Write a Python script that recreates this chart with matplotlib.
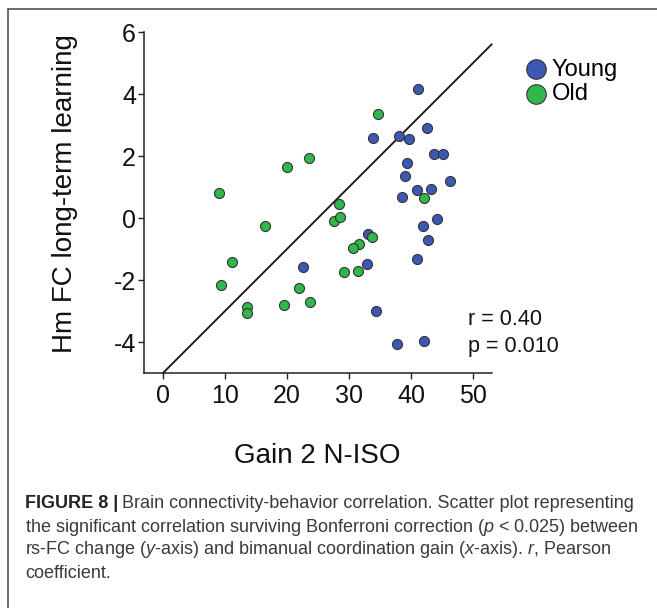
import matplotlib
matplotlib.use("Agg")
import matplotlib.pyplot as plt
from matplotlib.patches import Rectangle
import numpy as np

plt.rcParams['font.family'] = ['Liberation Sans', 'DejaVu Sans']
plt.rcParams['axes.unicode_minus'] = False

# ---- data ----
young_x = [41.2, 42.6, 33.8, 38.1, 39.7, 43.7, 45.2, 39.3, 39.1, 46.3, 41.0, 43.3,
           38.6, 44.2, 42.0, 42.8, 33.0, 41.0, 32.9, 22.6, 34.4, 37.7, 42.1]
young_y = [4.15, 2.89, 2.58, 2.66, 2.55, 2.07, 2.07, 1.77, 1.35, 1.20, 0.89, 0.94,
           0.69, -0.04, -0.27, -0.70, -0.53, -1.32, -1.49, -1.57, -2.99, -4.06, -3.98]
old_x = [9.1, 20.0, 23.6, 34.6, 42.1, 16.5, 11.1, 9.35, 21.9, 23.7, 19.5, 13.5,
         13.5, 28.4, 27.5, 28.6, 33.7, 31.6, 30.6, 29.2, 31.4]
old_y = [0.80, 1.65, 1.94, 3.35, 0.66, -0.25, -1.42, -2.17, -2.27, -2.70, -2.81, -2.88,
         -3.08, 0.45, -0.09, 0.04, -0.61, -0.83, -0.97, -1.74, -1.70]
group_labels = ["Young", "Old"]
fit_intercept = -5.0
fit_slope = 0.2
x_ticks = [0, 10, 20, 30, 40, 50]
y_ticks = [-4, -2, 0, 2, 4, 6]
stats_text = ["r = 0.40", "p = 0.010"]

W, H = 657, 608
fig = plt.figure(figsize=(W / 100, H / 100), dpi=100)

def fx(px):
    return px / W

def fy(py):
    return 1 - py / H

# axes placement
x0, x1 = 144.4, 491.6
y0, y1 = 32, 373
ax = fig.add_axes([fx(x0), fy(y1), (x1 - x0) / W, (y1 - y0) / H])
ax.set_xlim(-3, 53)
ax.set_ylim(-5, 6)
for s in ['top', 'right']:
    ax.spines[s].set_visible(False)
for s in ['left', 'bottom']:
    ax.spines[s].set_linewidth(1.1)
    ax.spines[s].set_color('#222222')
ax.set_xticks(x_ticks)
ax.set_yticks(y_ticks)
ax.tick_params(axis='both', direction='out', length=4, width=1.0, color='#222222',
               labelsize=18, labelcolor='#111111')
ax.tick_params(axis='x', pad=4)
ax.tick_params(axis='y', pad=2)

blue = '#3d58b3'
green = '#30b84c'
sc_y = ax.scatter(young_x, young_y, s=52, c=blue, edgecolors='#333333', linewidths=0.8,
                  zorder=3, label=group_labels[0])
sc_o = ax.scatter(old_x, old_y, s=52, c=green, edgecolors='#333333', linewidths=0.8,
                  zorder=3, label=group_labels[1])

xl = np.array([0, 53])
ax.plot(xl, fit_intercept + fit_slope * xl, color='#111111', lw=1.3, zorder=2,
        clip_on=False)

ax.text(49.2, -3.29, stats_text[0], fontsize=15.5, color='#111111', ha='left', va='center')
ax.text(49.2, -4.16, stats_text[1], fontsize=15.5, color='#111111', ha='left', va='center')

# axis labels
fig.text(fx(65), fy(194), "Hm FC long-term learning", rotation=90, fontsize=20,
         ha='center', va='center', color='#111111')
fig.text(fx(317), fy(456), "Gain 2 N-ISO", fontsize=20, ha='center', va='center',
         color='#111111')

# legend
fig.legend(handles=[sc_y, sc_o], labels=group_labels, loc='center left',
           bbox_to_anchor=(fx(522), fy(82)), frameon=False, markerscale=1.95,
           fontsize=17, handletextpad=0.05, labelspacing=0.12, handlelength=1.2,
           borderaxespad=0, borderpad=0)

# border
fig.add_artist(Rectangle((fx(8), -0.05), 1.2, fy(9) + 0.05, transform=fig.transFigure,
                         fill=False, edgecolor='#444444', lw=1.1))

# caption
cap_fs = 13
cap_col = '#3a3a3a'
plt.rcParams['mathtext.fontset'] = 'custom'
plt.rcParams['mathtext.it'] = 'Liberation Sans:italic'
plt.rcParams['mathtext.rm'] = 'Liberation Sans'
fig.canvas.draw()
r = fig.canvas.get_renderer()
t0 = fig.text(fx(25), fy(503), "FIGURE 8 |", fontsize=cap_fs, fontweight='bold',
              color='#222222', va='center', ha='left')
bb = t0.get_window_extent(renderer=r)
fig.text(bb.x1 / W + fx(4), fy(503),
         "Brain connectivity-behavior correlation. Scatter plot representing",
         fontsize=cap_fs, color=cap_col, va='center', ha='left')
fig.text(fx(25), fy(527),
         r"the significant correlation surviving Bonferroni correction ($\mathit{p}$ < 0.025) between",
         fontsize=cap_fs, color=cap_col, va='center', ha='left')
fig.text(fx(25), fy(550),
         r"rs-FC change ($\mathit{y}$-axis) and bimanual coordination gain ($\mathit{x}$-axis). $\mathit{r}$, Pearson",
         fontsize=cap_fs, color=cap_col, va='center', ha='left')
fig.text(fx(25), fy(573), "coefficient.", fontsize=cap_fs, color=cap_col,
         va='center', ha='left')

fig.savefig("out.png", dpi=100)
